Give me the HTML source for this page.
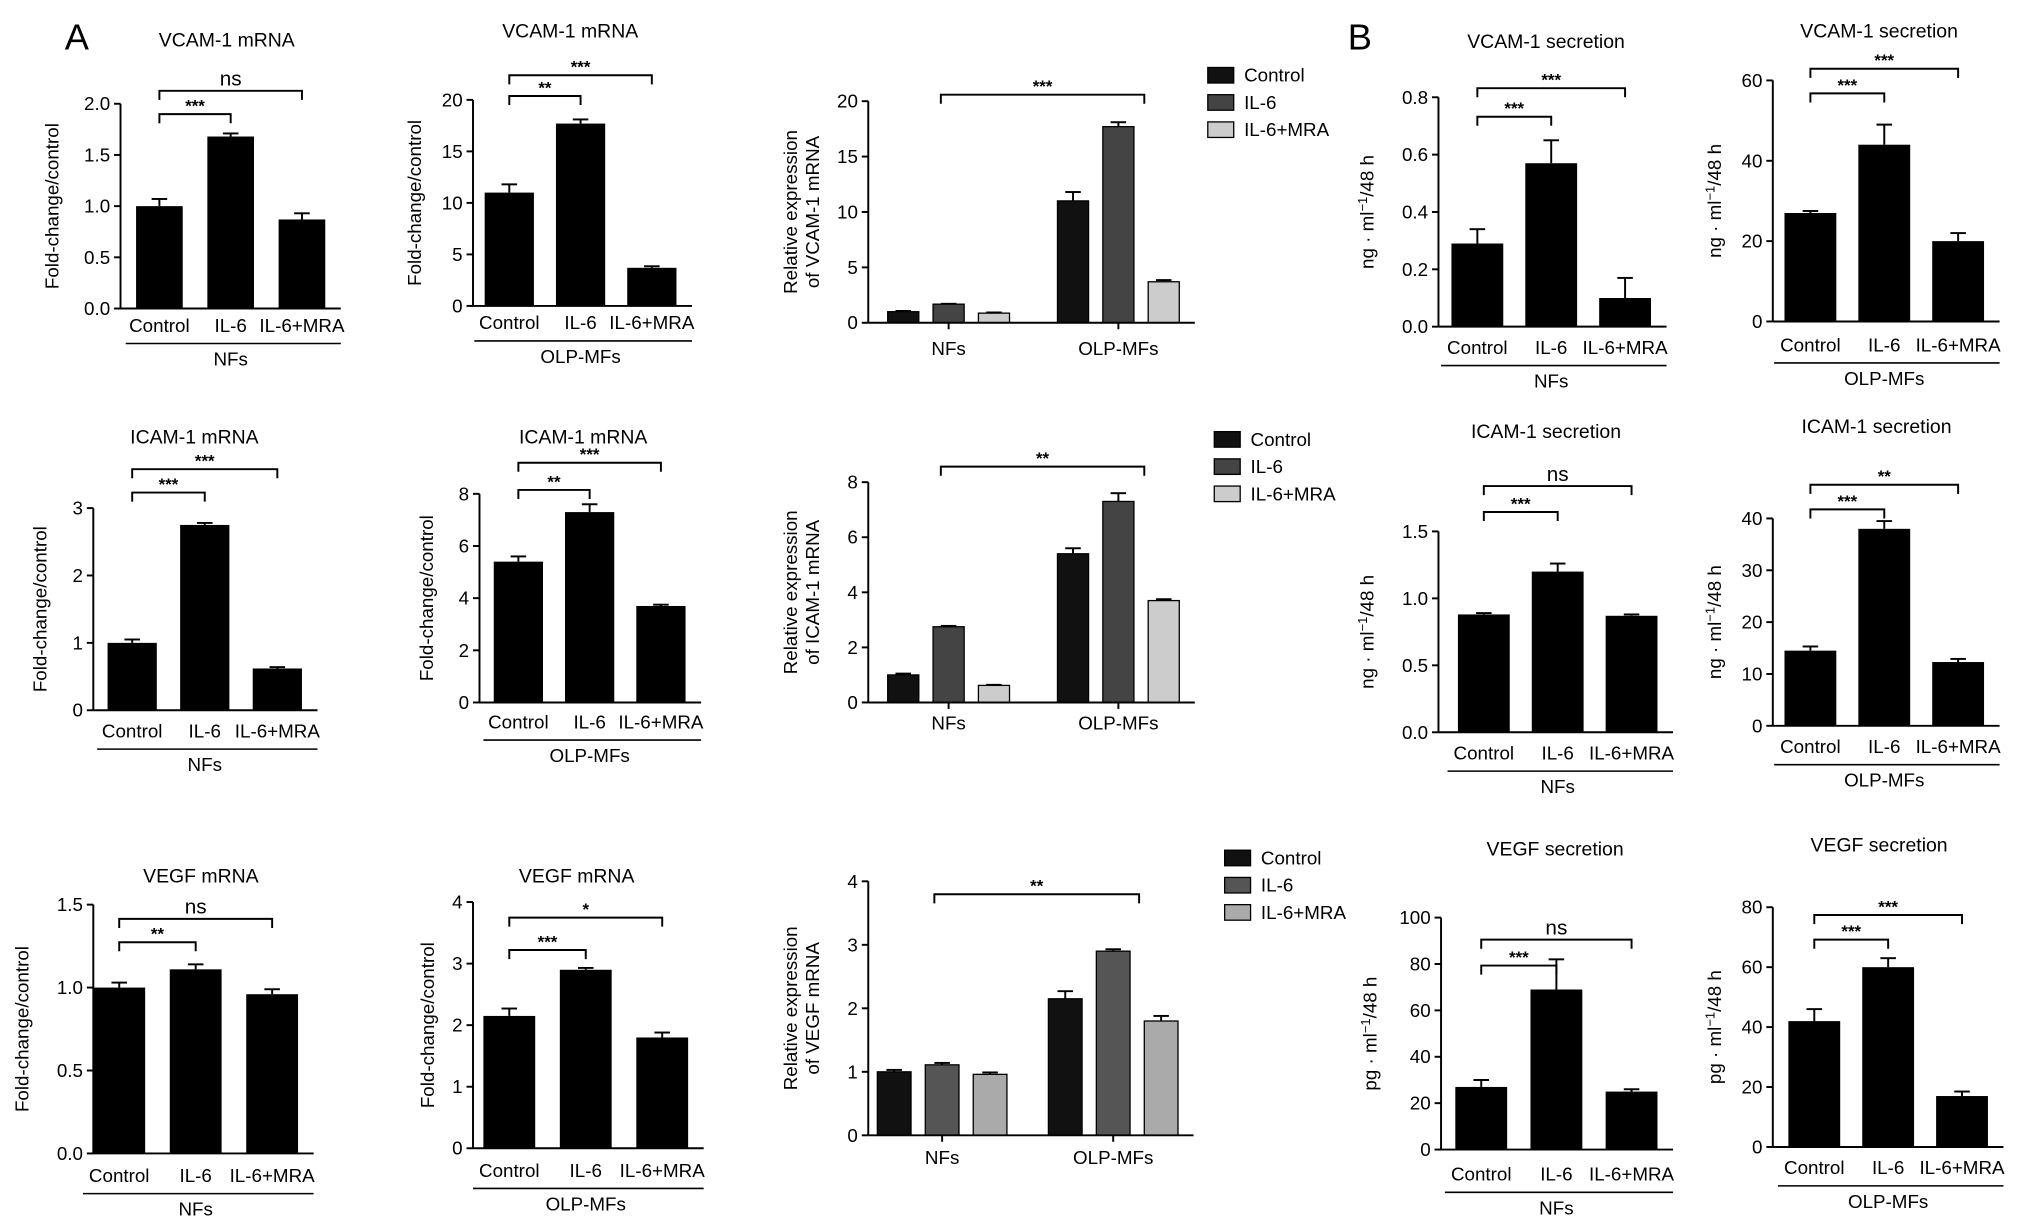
<!DOCTYPE html>
<html><head><meta charset="utf-8">
<style>
html,body{margin:0;padding:0;background:#fff;}
svg{display:block;font-family:"Liberation Sans",Arial,sans-serif;}
</style></head>
<body>
<svg id="fig" width="2032" height="1230" viewBox="0 0 1568 949" xmlns="http://www.w3.org/2000/svg">
<text x="50" y="38" font-size="28">A</text>
<text x="1040" y="38" font-size="28">B</text>
</svg>
<script>
const cats = ["Control","IL-6","IL-6+MRA"];
const groups = ["NFs","OLP-MFs"];
const vcamNfVals=[1.0,1.68,0.87], vcamNfErr=[0.07,0.03,0.06];
const vcamMfVals=[11.0,17.7,3.7], vcamMfErr=[0.8,0.4,0.15];
const icamNfVals=[1.0,2.75,0.62], icamNfErr=[0.05,0.03,0.02];
const icamMfVals=[5.4,7.3,3.7], icamMfErr=[0.2,0.3,0.05];
const vegfNfVals=[1.0,1.11,0.96], vegfNfErr=[0.03,0.03,0.03];
const vegfMfVals=[2.15,2.9,1.8], vegfMfErr=[0.12,0.03,0.08];
const vcamSecNfVals=[0.29,0.57,0.10], vcamSecNfErr=[0.05,0.08,0.07];
const vcamSecMfVals=[27,44,20], vcamSecMfErr=[0.5,5,2];
const icamSecNfVals=[0.88,1.2,0.87], icamSecNfErr=[0.01,0.06,0.01];
const icamSecMfVals=[14.5,38,12.3], icamSecMfErr=[0.8,1.5,0.6];
const vegfSecNfVals=[27,69,25], vegfSecNfErr=[3,13,1];
const vegfSecMfVals=[42,60,17], vegfSecMfErr=[4,3,1.5];
const vcamTicks=[0,5,10,15,20], icamTicks=[0,2,4,6,8], vegfTicks=[0,1,2,3,4];
const NS="http://www.w3.org/2000/svg", svg=document.getElementById('fig');
function mk(tag,attrs,txt,parent){const e=document.createElementNS(NS,tag);for(const k in attrs)e.setAttribute(k,attrs[k]);if(txt!==undefined)e.textContent=txt;(parent||svg).appendChild(e);return e;}
function fmt(t,dec){return dec?t.toFixed(dec):String(t);}
function axis(g,c){
  const y=v=>c.y0-(v/c.max)*(c.y0-c.yTop);
  const ax=mk('line',{x1:c.ax,y1:c.yTop,x2:c.ax,y2:c.y0,stroke:'#000','stroke-width':1.5},undefined,g);
  
  c.ticks.forEach(t=>{mk('line',{x1:c.ax-5,x2:c.ax,y1:y(t),y2:y(t),stroke:'#000','stroke-width':1.5},undefined,g);
    const tl=mk('text',{x:c.ax-8,y:y(t)+5,'font-size':14.5,'text-anchor':'end'},fmt(t,c.dec),g);
    });
  const lx=c.ax-(c.ylabOff||48), ly=(c.y0+c.yTop)/2;
  (c.ylab).forEach((s,i)=>{const t=mk('text',{x:lx+i*17,y:ly,'font-size':14.5,'text-anchor':'middle',transform:`rotate(-90 ${lx+i*17} ${ly})`},'',g);
    t.innerHTML=s;});
  const tt=mk('text',{x:c.tx,y:c.ty,'font-size':15,'text-anchor':'middle'},c.title,g);
  
  return y;
}
function bracket(g,x1,x2,yy,label,y){
  mk('path',{d:`M${x1} ${yy+7}V${yy}H${x2}V${yy+7}`,fill:'none',stroke:'#000','stroke-width':1.5},undefined,g);
  const t=mk('text',{x:(x1+x2)/2,y:label==='ns'?yy-4:yy-2,'font-size':label==='ns'?16:13,'text-anchor':'middle','font-weight':label==='ns'?'normal':'bold'},label,g);
  
}
function errbar(g,x,v,e,y){
  mk('line',{x1:x,x2:x,y1:y(v),y2:y(v+e),stroke:'#000','stroke-width':1.5},undefined,g);
  mk('line',{x1:x-6,x2:x+6,y1:y(v+e),y2:y(v+e),stroke:'#000','stroke-width':1.5},undefined,g);
}
function simple(c,name){
  const g=mk('g',{});
  const y=axis(g,c);
  const cx=i=>c.x0+i*c.step;
  c.vals.forEach((v,i)=>{errbar(g,cx(i),v,c.err[i],y);
    const b=mk('rect',{x:cx(i)-c.bw/2,y:y(v),width:c.bw,height:c.y0-y(v),fill:'#000'},undefined,g);
    
    const l=mk('text',{x:cx(i),y:c.ly,'font-size':14.5,'text-anchor':'middle'},cats[i],g);
    });
  mk('line',{x1:cx(0)-c.bw/2-8,x2:cx(2)+c.bw/2+12,y1:c.ly+9,y2:c.ly+9,stroke:'#000','stroke-width':1.2},undefined,g);
  const gl=mk('text',{x:cx(1),y:c.ly+26,'font-size':14.5,'text-anchor':'middle'},c.group,g);
  
  bracket(g,cx(0),cx(1),c.b1y,c.b1,y);bracket(g,cx(0),cx(2),c.b2y,c.b2,y);
}
const colsA=['#111','#444','#ccc'], colsV=['#111','#555','#aaa'];
function grouped(c,name){
  const g=mk('g',{});
  const y=axis(g,c);
  const cx=(gi,i)=>c.x0+gi*c.gstep+i*c.step;
  [c.nf,c.mf].forEach((vals,gi)=>{const errs=gi?c.mfErr:c.nfErr;
    vals.forEach((v,i)=>{errbar(g,cx(gi,i),v,errs[i],y);
      const b=mk('rect',{x:cx(gi,i)-c.bw/2,y:y(v),width:c.bw,height:c.y0-y(v),fill:c.cols[i],stroke:'#000','stroke-width':1},undefined,g);
      });
    const l=mk('text',{x:cx(gi,1),y:c.ly,'font-size':14.5,'text-anchor':'middle'},groups[gi],g);
    });
  mk('line',{x1:c.ax,x2:cx(1,2)+c.bw/2+12,y1:c.y0,y2:c.y0,stroke:'#000','stroke-width':1.5},undefined,g);
  [0,1].forEach(gi=>mk('line',{x1:cx(gi,1),x2:cx(gi,1),y1:c.y0,y2:c.y0+5,stroke:'#000','stroke-width':1.5},undefined,g));
  bracket(g,cx(0,1)-6,cx(1,1)+20,c.by,c.b,y);
  cats.forEach((cn,i)=>{const lg=mk('g',{},undefined,g);
    mk('rect',{x:c.lgx,y:c.lgy+i*21-10,width:20,height:12,fill:c.cols[i],stroke:'#000'},undefined,lg);
    mk('text',{x:c.lgx+28,y:c.lgy+i*21+1,'font-size':14.5},cn,lg);});
}
function addBaseline(c){
  const l=mk('line',{x1:c.ax,x2:c.x0+2*c.step+c.bw/2+12,y1:c.y0,y2:c.y0,stroke:'#000','stroke-width':1.5});
  
}
const fold=['Fold-change/control'], ngml=['ng · ml<tspan dy="-5" font-size="10">−1</tspan><tspan dy="5">/48 h</tspan>'], pgml=['pg · ml<tspan dy="-5" font-size="10">−1</tspan><tspan dy="5">/48 h</tspan>'];
const P=[
 [{ax:93,y0:238,yTop:80,max:2,ticks:[0,0.5,1,1.5,2],dec:1,ylab:fold,x0:123,step:55,bw:36,vals:vcamNfVals,err:vcamNfErr,ly:256,group:'NFs',title:'VCAM-1 mRNA',tx:175,ty:36,b1:'***',b1y:88,b2:'ns',b2y:70},'vcam-mrna-nfs'],
 [{ax:365,y0:236,yTop:77,max:20,ticks:vcamTicks,ylab:fold,ylabOff:40,x0:393,step:55,bw:38,vals:vcamMfVals,err:vcamMfErr,ly:254,group:'OLP-MFs',title:'VCAM-1 mRNA',tx:440,ty:29,b1:'**',b1y:74,b2:'***',b2y:58},'vcam-mrna-mfs'],
 [{ax:72,y0:548,yTop:392,max:3,ticks:[0,1,2,3],ylab:fold,ylabOff:36,x0:102,step:56,bw:38,vals:icamNfVals,err:icamNfErr,ly:569,group:'NFs',title:'ICAM-1 mRNA',tx:150,ty:342,b1:'***',b1y:380,b2:'***',b2y:362},'icam-mrna-nfs'],
 [{ax:370,y0:542,yTop:381,max:8,ticks:icamTicks,ylab:fold,ylabOff:36,x0:400,step:55,bw:38,vals:icamMfVals,err:icamMfErr,ly:562,group:'OLP-MFs',title:'ICAM-1 mRNA',tx:450,ty:342,b1:'**',b1y:378,b2:'***',b2y:357},'icam-mrna-mfs'],
 [{ax:72,y0:890,yTop:698,max:1.5,ticks:[0,0.5,1,1.5],dec:1,ylab:fold,ylabOff:50,x0:92,step:59,bw:40,vals:vegfNfVals,err:vegfNfErr,ly:912,group:'NFs',title:'VEGF mRNA',tx:155,ty:681,b1:'**',b1y:727,b2:'ns',b2y:709},'vegf-mrna-nfs'],
 [{ax:365,y0:886,yTop:696,max:4,ticks:vegfTicks,ylab:fold,ylabOff:30,x0:393,step:59,bw:40,vals:vegfMfVals,err:vegfMfErr,ly:908,group:'OLP-MFs',title:'VEGF  mRNA',tx:445,ty:681,b1:'***',b1y:733,b2:'*',b2y:708},'vegf-mrna-mfs'],
 [{ax:1110,y0:252,yTop:75,max:0.8,ticks:[0,0.2,0.4,0.6,0.8],dec:1,ylab:ngml,ylabOff:50,x0:1140,step:57,bw:40,vals:vcamSecNfVals,err:vcamSecNfErr,ly:273,group:'NFs',title:'VCAM-1 secretion',tx:1193,ty:37,b1:'***',b1y:90,b2:'***',b2y:68},'vcam-secretion-nfs'],
 [{ax:1368,y0:248,yTop:62,max:60,ticks:[0,20,40,60],ylab:ngml,ylabOff:40,x0:1397,step:57,bw:40,vals:vcamSecMfVals,err:vcamSecMfErr,ly:271,group:'OLP-MFs',title:'VCAM-1 secretion',tx:1450,ty:29,b1:'***',b1y:72,b2:'***',b2y:53},'vcam-secretion-mfs'],
 [{ax:1110,y0:565,yTop:410,max:1.5,ticks:[0,0.5,1,1.5],dec:1,ylab:ngml,ylabOff:50,x0:1145,step:57,bw:40,vals:icamSecNfVals,err:icamSecNfErr,ly:586,group:'NFs',title:'ICAM-1 secretion',tx:1193,ty:338,b1:'***',b1y:395,b2:'ns',b2y:375},'icam-secretion-nfs'],
 [{ax:1368,y0:560,yTop:400,max:40,ticks:[0,10,20,30,40],ylab:ngml,ylabOff:40,x0:1397,step:57,bw:40,vals:icamSecMfVals,err:icamSecMfErr,ly:581,group:'OLP-MFs',title:'ICAM-1 secretion',tx:1448,ty:334,b1:'***',b1y:393,b2:'**',b2y:374},'icam-secretion-mfs'],
 [{ax:1112,y0:887,yTop:708,max:100,ticks:[0,20,40,60,80,100],ylab:pgml,ylabOff:50,x0:1143,step:58,bw:40,vals:vegfSecNfVals,err:vegfSecNfErr,ly:911,group:'NFs',title:'VEGF secretion',tx:1200,ty:660,b1:'***',b1y:745,b2:'ns',b2y:725},'vegf-secretion-nfs'],
 [{ax:1368,y0:885,yTop:700,max:80,ticks:[0,20,40,60,80],ylab:pgml,ylabOff:40,x0:1400,step:57,bw:40,vals:vegfSecMfVals,err:vegfSecMfErr,ly:906,group:'OLP-MFs',title:'VEGF secretion',tx:1450,ty:657,b1:'***',b1y:725,b2:'***',b2y:706},'vegf-secretion-mfs']
];
P.forEach(([c,n])=>{simple(c,n);addBaseline(c);});
grouped({ax:670,y0:249,yTop:78,max:20,ticks:vcamTicks,ylab:['Relative expression','of VCAM-1 mRNA'],ylabOff:55,x0:697,gstep:131,step:35,bw:24,nf:vcamNfVals,mf:vcamMfVals,nfErr:vcamNfErr,mfErr:vcamMfErr,cols:colsA,ly:274,b:'***',by:73,lgx:932,lgy:62,title:'',tx:0,ty:0},'vcam-grouped');
grouped({ax:670,y0:542,yTop:372,max:8,ticks:icamTicks,ylab:['Relative expression','of ICAM-1 mRNA'],ylabOff:55,x0:697,gstep:131,step:35,bw:24,nf:icamNfVals,mf:icamMfVals,nfErr:icamNfErr,mfErr:icamMfErr,cols:colsA,ly:563,b:'**',by:360,lgx:937,lgy:343,title:'',tx:0,ty:0},'icam-grouped');
grouped({ax:670,y0:876,yTop:680,max:4,ticks:vegfTicks,ylab:['Relative expression','of VEGF mRNA'],ylabOff:55,x0:690,gstep:132,step:37,bw:26,nf:vegfNfVals,mf:vegfMfVals,nfErr:vegfNfErr,mfErr:vegfMfErr,cols:colsV,ly:898,b:'**',by:690,lgx:945,lgy:666,title:'',tx:0,ty:0},'vegf-grouped');
</script>
</body></html>
